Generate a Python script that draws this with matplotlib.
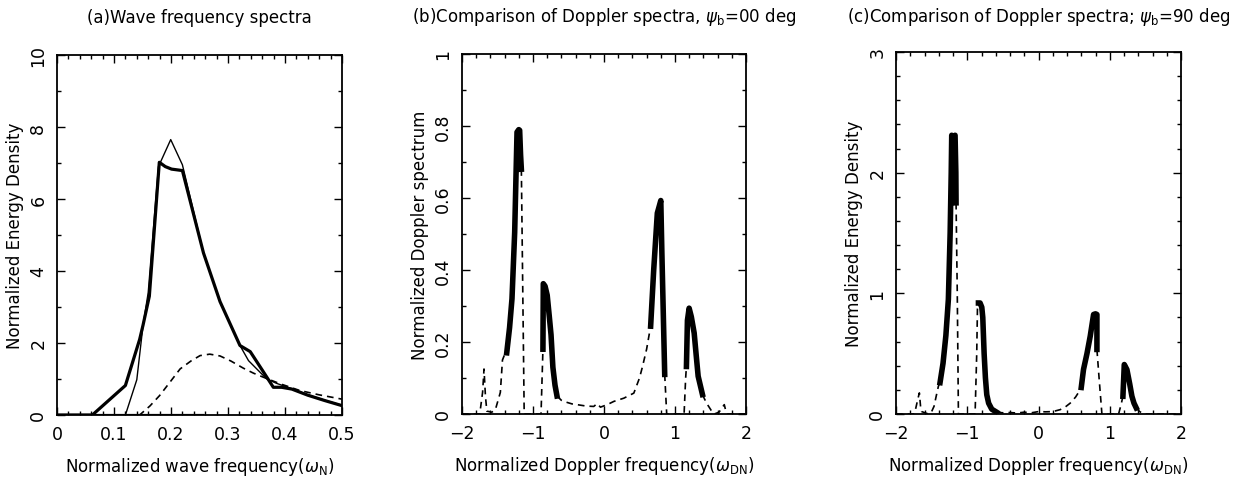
import matplotlib
matplotlib.use("Agg")
import matplotlib.pyplot as plt
import numpy as np
from matplotlib.ticker import MultipleLocator, FixedLocator, FixedFormatter

nan = np.nan

# (a) wave frequency spectra
a_x_thick = [0, 0.062, 0.12, 0.145, 0.151, 0.162, 0.1795, 0.19, 0.201, 0.22, 0.257, 0.286,
             0.321, 0.339, 0.36, 0.3795, 0.394, 0.412, 0.44, 0.47, 0.5]
a_y_thick = [0, 0, 0.82, 2.1, 2.5, 3.3, 7.02, 6.9, 6.83, 6.79, 4.5, 3.15,
             1.93, 1.76, 1.25, 0.77, 0.77, 0.72, 0.55, 0.4, 0.26]
a_x_thin = [0, 0.12, 0.14, 0.151, 0.16, 0.178, 0.1995, 0.22, 0.257, 0.286, 0.321, 0.336,
            0.368, 0.385, 0.41, 0.44, 0.47, 0.5]
a_y_thin = [0, 0, 0.98, 2.5, 3.4, 6.9, 7.65, 6.95, 4.5, 3.15, 1.93, 1.51,
            1.0, 0.88, 0.74, 0.56, 0.41, 0.27]
a_x_dash = [0, 0.145, 0.163, 0.18, 0.2, 0.216, 0.235, 0.251, 0.268, 0.286, 0.305, 0.327,
            0.345, 0.362, 0.391, 0.426, 0.46, 0.5]
a_y_dash = [0, 0, 0.25, 0.54, 0.95, 1.28, 1.5, 1.65, 1.69, 1.64, 1.5, 1.3,
            1.16, 1.05, 0.87, 0.68, 0.56, 0.44]
# thick trace lying on the baseline
a_x_base = [0, 0.254]
a_y_base = [0, 0]

# (b) Doppler spectra, psi_b = 0
b_x_solid = [-1.37, -1.33, -1.296, -1.258, -1.225, -1.2, -1.188, -1.175, -1.164, nan,
             -0.86, -0.855, -0.83, -0.80, -0.77, -0.746, -0.72, -0.69, -0.662, nan,
             0.657, 0.70, 0.751, 0.775, 0.80, 0.815, 0.835, 0.855, nan,
             1.161, 1.175, 1.199, 1.23, 1.27, 1.30, 1.326, 1.387]
b_y_solid = [0.17, 0.24, 0.32, 0.505, 0.783, 0.79, 0.788, 0.72, 0.68, nan,
             0.18, 0.362, 0.355, 0.33, 0.27, 0.22, 0.13, 0.08, 0.05, nan,
             0.244, 0.40, 0.558, 0.575, 0.593, 0.45, 0.28, 0.11, nan,
             0.132, 0.26, 0.294, 0.27, 0.225, 0.16, 0.105, 0.054]
b_x_dash = [-2.0, -1.75, -1.71, -1.69, -1.67, -1.65, -1.58, -1.53, -1.46, -1.43, -1.40, -1.37, nan,
            -1.164, -1.124, -1.0, -0.887, -0.86, nan,
            -0.662, -0.60, -0.568, -0.45, -0.38, -0.25, -0.144, -0.097, -0.05, 0.045, 0.139,
            0.28, 0.42, 0.50, 0.54, 0.60, 0.657, nan,
            0.855, 0.883, 1.0, 1.128, 1.15, 1.161, nan,
            1.387, 1.42, 1.458, 1.51, 1.553, 1.62, 1.694, 1.72, 1.74, 2.0]
b_y_dash = [0, 0, 0.06, 0.125, 0.05, 0.008, 0.005, 0.012, 0.06, 0.15, 0.165, 0.17, nan,
            0.68, 0.0, 0.0, 0.0, 0.18, nan,
            0.05, 0.038, 0.035, 0.028, 0.026, 0.022, 0.021, 0.029, 0.019, 0.026, 0.035,
            0.044, 0.058, 0.1, 0.13, 0.18, 0.244, nan,
            0.11, 0.0, 0.0, 0.0, 0.1, 0.132, nan,
            0.054, 0.04, 0.026, 0.01, 0.0, 0.005, 0.026, 0.005, 0.0, 0.0]

# (c) Doppler spectra, psi_b = 90
c_x_solid = [-1.382, -1.34, -1.30, -1.265, -1.24, -1.225, -1.218, -1.195, -1.171, -1.16, -1.157, nan,
             -0.843, -0.82, -0.796, -0.782, -0.763, -0.745, -0.726, -0.70, -0.656, -0.585, nan,
             0.60, 0.632, 0.68, 0.726, 0.773, 0.80, 0.82, 0.82, nan,
             1.185, 1.204, 1.241, 1.28, 1.311, 1.34, 1.372]
c_y_solid = [0.26, 0.42, 0.65, 0.95, 1.5, 2.0, 2.31, 2.3, 2.31, 2.0, 1.75, nan,
             0.92, 0.92, 0.885, 0.8, 0.5, 0.3, 0.16, 0.09, 0.04, 0.014, nan,
             0.22, 0.37, 0.5, 0.645, 0.825, 0.83, 0.825, 0.535, nan,
             0.147, 0.41, 0.368, 0.25, 0.147, 0.09, 0.05]
c_x_dash = [-2.0, -1.75, -1.733, -1.695, -1.672, -1.655, -1.64, -1.546, -1.5, -1.466, -1.435,
            -1.405, -1.382, nan,
            -1.157, -1.14, -1.124, -1.0, -0.89, -0.867, -0.857, -0.843, nan,
            -0.585, -0.5, -0.4, -0.3, -0.2, -0.1, 0.0, 0.1, 0.2, 0.304, 0.38, 0.445, 0.52,
            0.585, 0.60, nan,
            0.82, 0.85, 0.89, 1.0, 1.124, 1.16, 1.185, nan,
            1.372, 1.42, 1.475, 2.0]
c_y_dash = [0, 0, 0.02, 0.12, 0.175, 0.06, 0.02, 0.0, 0.02, 0.064, 0.15,
            0.23, 0.26, nan,
            1.75, 1.0, 0.0, 0.0, 0.0, 0.5, 0.87, 0.92, nan,
            0.014, 0.01, 0.012, 0.008, 0.015, 0.01, 0.02, 0.018, 0.02, 0.036, 0.06, 0.09, 0.14,
            0.2, 0.22, nan,
            0.535, 0.3, 0.0, 0.0, 0.0, 0.08, 0.147, nan,
            0.05, 0.02, 0.0, 0.0]

a_xticks = [0, 0.1, 0.2, 0.3, 0.4, 0.5]
a_xlabels = ["0", "0.1", "0.2", "0.3", "0.4", "0.5"]

plt.rcParams['font.family'] = 'DejaVu Sans'
plt.rcParams['mathtext.fontset'] = 'dejavusans'

fig = plt.figure(figsize=(12.54, 4.81), dpi=100)
ax_a = fig.add_axes([57/1254, 65/481, 285/1254, 360/481])
ax_b = fig.add_axes([462/1254, 66/481, 284/1254, 360/481])
ax_c = fig.add_axes([896/1254, 66/481, 285/1254, 362/481])

dash = dict(color='black', lw=1.2, dashes=(4, 3))

ax_a.plot(a_x_dash, a_y_dash, **dash)
ax_a.plot(a_x_thin, a_y_thin, color='black', lw=1.0)
ax_a.plot(a_x_thick, a_y_thick, color='black', lw=2.3)
ax_a.plot(a_x_base, a_y_base, color='black', lw=2.3)

ax_b.plot(b_x_dash, b_y_dash, **dash)
ax_b.plot(b_x_solid, b_y_solid, color='black', lw=4)

ax_c.plot(c_x_dash, c_y_dash, **dash)
ax_c.plot(c_x_solid, c_y_solid, color='black', lw=4)

ax_a.set_xlim(0, 0.5)
ax_a.set_ylim(0, 10)
ax_a.xaxis.set_major_locator(FixedLocator(a_xticks))
ax_a.xaxis.set_major_formatter(FixedFormatter(a_xlabels))
ax_a.xaxis.set_minor_locator(MultipleLocator(0.02))
ax_a.yaxis.set_major_locator(MultipleLocator(2))
ax_a.yaxis.set_minor_locator(MultipleLocator(1))

ax_b.set_xlim(-2, 2)
ax_b.set_ylim(0, 1)
ax_b.xaxis.set_major_locator(MultipleLocator(1))
ax_b.xaxis.set_minor_locator(MultipleLocator(0.2))
ax_b.yaxis.set_major_locator(MultipleLocator(0.2))
ax_b.yaxis.set_minor_locator(MultipleLocator(0.1))
ax_b.set_yticks([0, 0.2, 0.4, 0.6, 0.8, 1.0], ["0", "0.2", "0.4", "0.6", "0.8", "1"])

ax_c.set_xlim(-2, 2)
ax_c.set_ylim(0, 3)
ax_c.xaxis.set_major_locator(MultipleLocator(1))
ax_c.xaxis.set_minor_locator(MultipleLocator(0.2))
ax_c.yaxis.set_major_locator(MultipleLocator(1))
ax_c.yaxis.set_minor_locator(MultipleLocator(0.2))

for ax in (ax_a, ax_b, ax_c):
    ax.tick_params(which='both', direction='in', top=True, right=True, labelsize=12.5,
                   width=1.0, color='black')
    ax.tick_params(which='major', length=6, pad=7)
    ax.tick_params(which='minor', length=3)
    for lab in ax.get_yticklabels():
        lab.set_rotation(90)
        lab.set_va('center')
    for s in ax.spines.values():
        s.set_linewidth(1.3)

ax_a.set_title('(a)Wave frequency spectra', fontsize=12, pad=24)
ax_b.set_title(r'(b)Comparison of Doppler spectra, $\psi_{\rm b}$=00 deg', fontsize=12, pad=24)
ax_c.set_title(r'(c)Comparison of Doppler spectra; $\psi_{\rm b}$=90 deg', fontsize=12, pad=22)

ax_a.set_xlabel(r'Normalized wave frequency($\omega_{\rm N}$)', fontsize=12, labelpad=9)
ax_b.set_xlabel(r'Normalized Doppler frequency($\omega_{\rm DN}$)', fontsize=12, labelpad=9)
ax_c.set_xlabel(r'Normalized Doppler frequency($\omega_{\rm DN}$)', fontsize=12, labelpad=9)
ax_a.set_ylabel('Normalized Energy Density', fontsize=12, labelpad=4)
ax_b.set_ylabel('Normalized Doppler spectrum', fontsize=12, labelpad=4)
ax_c.set_ylabel('Normalized Energy Density', fontsize=12, labelpad=4)

fig.savefig('out.png', dpi=100)
